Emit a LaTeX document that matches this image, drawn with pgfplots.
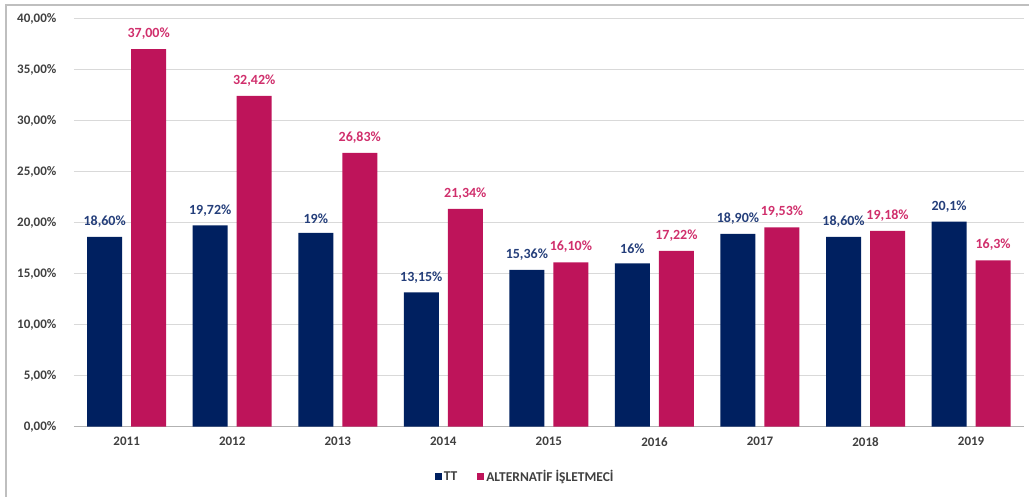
\documentclass[border=0pt]{standalone}
\usepackage{pgfplots}
\pgfplotsset{compat=1.18}
\usepackage{fontspec}
\setmainfont{Carlito}
\definecolor{ttblue}{HTML}{002060}
\definecolor{altred}{HTML}{BE145A}
\definecolor{ttlab}{HTML}{243E7A}
\definecolor{altlab}{HTML}{D02F6C}
\definecolor{txt}{HTML}{404040}
\definecolor{gridgray}{HTML}{D9D9D9}
\begin{document}
\begin{tikzpicture}[x=1pt,y=1pt]
\path[use as bounding box] (0,0) rectangle (1029,497);
\draw[gray!50, line width=1.5pt] (6,0) -- (6,492) -- (1029,492);
\begin{axis}[
  at={(70,69)}, anchor=south west,
  width=950pt, height=408pt, scale only axis,
  xmin=-0.5, xmax=8.5, ymin=0, ymax=40,
  ytick={0,5,...,40},
  yticklabels={{0,00\%},{5,00\%},{10,00\%},{15,00\%},{20,00\%},{25,00\%},{30,00\%},{35,00\%},{40,00\%}},
  xtick={0,...,8},
  xticklabels={2011,2012,2013,2014,2015,2016,2017,2018,2019},
  major tick length=0pt,
  axis line style={draw=none},
  ymajorgrids, xmajorgrids=false,
  major grid style={draw=gridgray, line width=1.5pt},
  tick label style={font=\bfseries\fontsize{13}{15}\selectfont, text=txt},
  yticklabel style={xshift=-14pt},
  xticklabel style={yshift=-7pt},
  ybar=9pt, bar width=35pt,
  point meta=explicit symbolic,
  nodes near coords,
  nodes near coords style={font=\bfseries\fontsize{14}{16}\selectfont, anchor=south, yshift=6pt},
  legend style={at={(0.475,-0.1225)}, anchor=center, draw=none, legend columns=2,
    font=\bfseries\fontsize{13.5}{15}\selectfont, text=txt,
    /tikz/column 2/.style={column sep=18pt}},
  legend image code/.code={\fill[#1] (0pt,-3.5pt) rectangle (7pt,3.5pt);},
]
\draw[gray!60, line width=1.5pt] (axis cs:-0.5,0) -- (axis cs:8.5,0);
\addplot[fill=ttblue, draw=none, nodes near coords style={text=ttlab}] table[meta=l] {
x y l
0 18.60 18,60\%
1 19.72 19,72\%
2 19.00 19\%
3 13.15 13,15\%
4 15.36 15,36\%
5 16.00 16\%
6 18.90 18,90\%
7 18.60 18,60\%
8 20.10 20,1\%
};
\addplot[fill=altred, draw=none, nodes near coords style={text=altlab}] table[meta=l] {
x y l
0 37.00 37,00\%
1 32.42 32,42\%
2 26.83 26,83\%
3 21.34 21,34\%
4 16.10 16,10\%
5 17.22 17,22\%
6 19.53 19,53\%
7 19.18 19,18\%
8 16.30 16,3\%
};
\legend{TT, ALTERNATİF İŞLETMECİ}
\end{axis}
\end{tikzpicture}
\end{document}
